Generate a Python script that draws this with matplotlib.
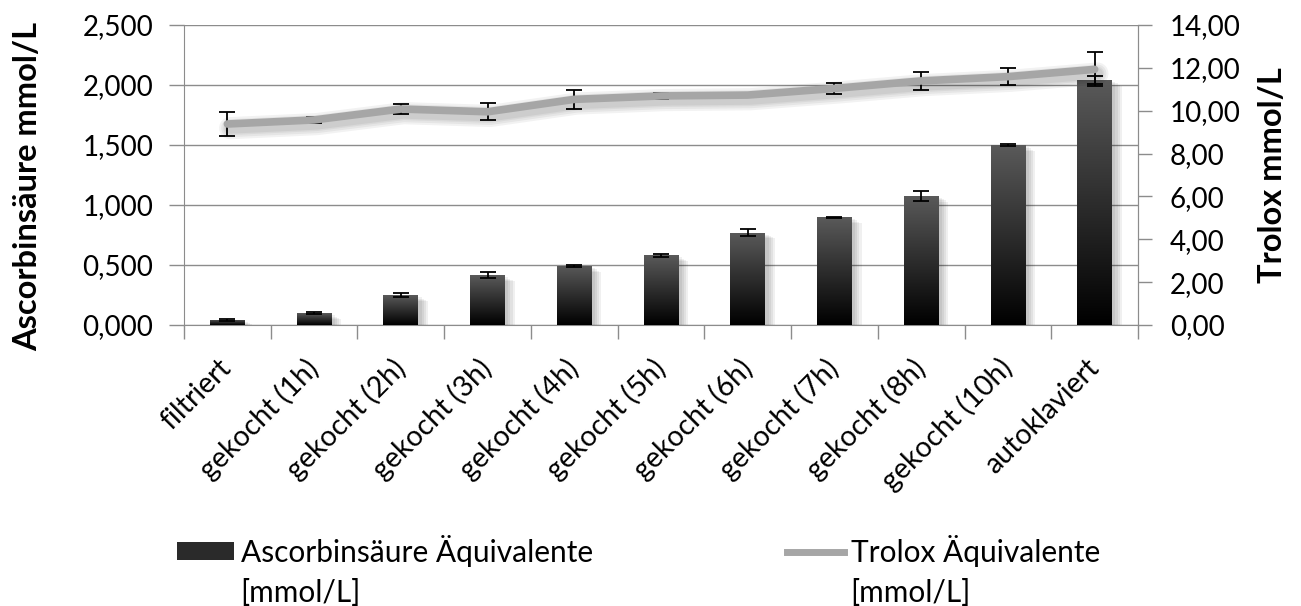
import numpy as np
import matplotlib
matplotlib.use('Agg')
import matplotlib.pyplot as plt
import matplotlib.patheffects as pe
from matplotlib.colors import LinearSegmentedColormap
from matplotlib.patches import Patch
from matplotlib.lines import Line2D
from matplotlib.ticker import FuncFormatter, FixedLocator

plt.rcParams['font.family'] = ['Lato', 'DejaVu Sans']

# data
categories = ['filtriert', 'gekocht (1h)', 'gekocht (2h)', 'gekocht (3h)', 'gekocht (4h)',
              'gekocht (5h)', 'gekocht (6h)', 'gekocht (7h)', 'gekocht (8h)', 'gekocht (10h)',
              'autoklaviert']
ascorbin = [0.045, 0.098, 0.248, 0.415, 0.492, 0.580, 0.770, 0.899, 1.076, 1.500, 2.042]
ascorbin_err = [0.008, 0.010, 0.015, 0.025, 0.005, 0.015, 0.028, 0.005, 0.043, 0.012, 0.033]
trolox = [9.38, 9.57, 10.08, 9.95, 10.53, 10.69, 10.73, 11.04, 11.39, 11.59, 11.93]
trolox_err = [0.57, 0.12, 0.24, 0.40, 0.43, 0.15, 0.08, 0.27, 0.43, 0.40, 0.79]

label_asc = 'Ascorbinsäure Äquivalente'
label_trolox = 'Trolox Äquivalente'
unit = '[mmol/L]'

grid_col = '#8c8c8c'
line_col = '#a6a6a6'
fs_tick = 20
fs_x = 20.5
fs_lab = 23.5
fs_leg = 21.5

W, H = 1301, 606
fig = plt.figure(figsize=(W / 100, H / 100), dpi=100)
ax = fig.add_axes([184 / W, 1 - 325 / H, 954 / W, 300 / H])
x = np.arange(len(categories))

# bars with a dark gradient and soft shadow
shadow = [pe.SimplePatchShadow(offset=(o, -o * 0.6), shadow_rgbFace='black', alpha=0.06)
          for o in (7, 5.5, 4, 2.5)] + [pe.Normal()]
bars = ax.bar(x, ascorbin, width=0.40, color='#262626', zorder=2, path_effects=shadow)
cmap = LinearSegmentedColormap.from_list('dark', ['#000000', '#5a5a5a'])
grad = np.linspace(0, 1, 256).reshape(-1, 1)
for b in bars:
    im = ax.imshow(grad, cmap=cmap, origin='lower', aspect='auto', zorder=3,
                   extent=[b.get_x(), b.get_x() + b.get_width(), 0, b.get_height()])
    im.set_clip_path(b)
ax.errorbar(x, ascorbin, yerr=ascorbin_err, fmt='none', ecolor='black',
            elinewidth=1.3, capsize=6, capthick=1.3, zorder=4)

ax.set_xlim(-0.5, len(categories) - 0.5)
ax.set_ylim(0, 2.5)
ax.set_yticks(np.arange(0, 2.51, 0.5))
ax.yaxis.set_major_formatter(FuncFormatter(lambda v, p: f'{v:.3f}'.replace('.', ',')))
ax.grid(axis='y', color=grid_col, lw=1, zorder=0)
ax.set_axisbelow(True)
ax.set_xticks(x)
ax.set_xticklabels(categories, rotation=45, ha='right', va='center', rotation_mode='anchor',
                   fontsize=fs_x)
ax.xaxis.set_minor_locator(FixedLocator(np.arange(-0.5, len(categories), 1)))
ax.tick_params(axis='x', which='major', length=0, pad=28)
ax.tick_params(axis='x', which='minor', length=10, color=grid_col, width=1)
ax.tick_params(axis='y', length=11, color=grid_col, width=1, labelsize=fs_tick, pad=11)
for s in ('left', 'bottom', 'right'):
    ax.spines[s].set_color(grid_col)
ax.spines['top'].set_visible(False)
ax.set_ylabel('Ascorbinsäure mmol/L', fontsize=fs_lab, fontweight='bold')
ax.yaxis.set_label_coords(-0.149, 0.463)

# secondary axis with Trolox line
ax2 = ax.twinx()
ax2.set_ylim(0, 14)
ax2.set_yticks(np.arange(0, 14.1, 2))
ax2.yaxis.set_major_formatter(FuncFormatter(lambda v, p: f'{v:.2f}'.replace('.', ',')))
ax2.tick_params(axis='y', length=10, color=grid_col, width=1, labelsize=fs_tick, pad=13)
ax2.spines['right'].set_color(grid_col)
ax2.spines['top'].set_visible(False)
ax2.spines['left'].set_visible(False)
ax2.spines['bottom'].set_visible(False)
ax2.errorbar(x, trolox, yerr=trolox_err, fmt='none', ecolor='black',
             elinewidth=1.3, capsize=6, capthick=1.3, zorder=3)
line_shadow = [pe.SimpleLineShadow(offset=(2, -3), shadow_color='black', alpha=0.05,
                                   linewidth=w) for w in (16, 13, 10, 8)] + [pe.Normal()]
ax2.plot(x, trolox, color=line_col, lw=5.5, solid_capstyle='round', zorder=4,
         path_effects=line_shadow)
ax2.set_ylabel('Trolox mmol/L', fontsize=fs_lab, fontweight='bold')
ax2.yaxis.set_label_coords(1.1258, 0.5)

# legend entries at the bottom, second line of each label added below
h_bar = Patch(facecolor='#2a2a2a', edgecolor='none')
h_line = Line2D([0], [0], color=line_col, lw=5)
legs = []
for h, lab, x0 in [(h_bar, label_asc, 177), (h_line, label_trolox, 787)]:
    lg = fig.legend([h], [lab], loc='upper left', bbox_to_anchor=(x0 / W, 1 - 535 / H),
                    frameon=False, fontsize=fs_leg, handlelength=1.9, handleheight=0.55,
                    handletextpad=0.23, borderpad=0, borderaxespad=0)
    legs.append(lg)
fig.canvas.draw()
for lg in legs:
    bb = lg.get_texts()[0].get_window_extent()
    fig.text(bb.x0 / W, (bb.y0 - 40) / H, unit, fontsize=fs_leg, ha='left', va='bottom')

fig.savefig('out.png', dpi=100)
